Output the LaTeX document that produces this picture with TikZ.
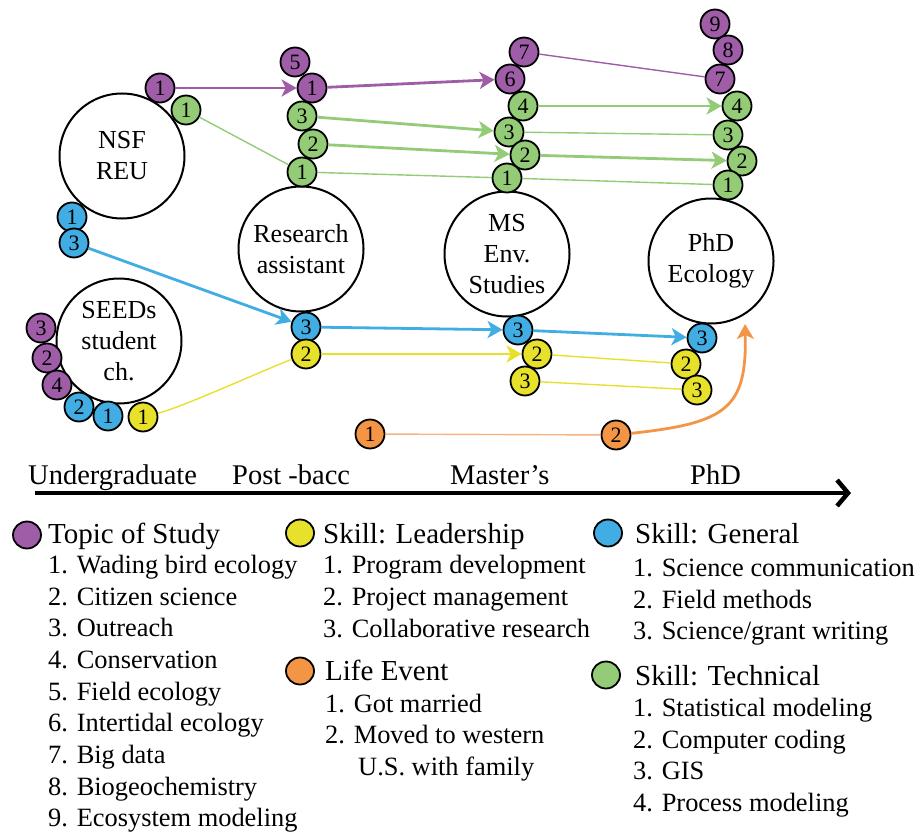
\documentclass[tikz,border=0pt]{standalone}
\usepackage{fontspec}
\setmainfont{Liberation Serif}
\usetikzlibrary{arrows.meta,shapes.geometric}

\definecolor{topic}{HTML}{9F5DA7}
\definecolor{lead}{HTML}{E8E12C}
\definecolor{gen}{HTML}{41ADE2}
\definecolor{tech}{HTML}{93CB77}
\definecolor{life}{HTML}{F49545}
\definecolor{lifelt}{HTML}{F8B282}

\tikzset{
  stage/.style={circle,draw,line width=2pt,minimum size=125pt,inner sep=0pt,align=center,font=\fontsize{26}{31}\selectfont},
  bead/.style={circle,draw,line width=1.8pt,minimum size=29pt,inner sep=0pt,font=\fontsize{22}{22}\selectfont},
  swatch/.style={ellipse,draw,line width=1.8pt,minimum width=28pt,minimum height=27pt,inner sep=0pt},
  head/.style={anchor=base west,inner sep=0pt,font=\fontsize{29}{33}\selectfont},
  item/.style={anchor=base west,inner sep=0pt,font=\fontsize{26.4}{31}\selectfont},
  era/.style={anchor=base west,inner sep=0pt,font=\fontsize{28.5}{32}\selectfont},
  link/.style={line width=1.4pt},
  move/.style={line width=2.8pt,-{Stealth[length=15pt,width=17pt,inset=4pt]}},
}

\begin{document}
\begin{tikzpicture}[x=1pt,y=-1pt]
	\useasboundingbox (0,0) rectangle (917,837);
	% stages
	\node[stage] (nsf) at (122,156) {NSF\\REU};
	\node[stage] (ra) at (301,249) {Research\\assistant};
	\node[stage] (ms) at (507,254) {MS\\Env.\\Studies};
	\node[stage] (phd) at (711,261) {PhD\\Ecology};
	\node[stage] (seeds) at (119,341) {SEEDs\\student\\ch.};
	% NSF REU
	\node[bead,fill=topic] (nsfP1) at (160,88) {1};
	\node[bead,fill=tech] (nsfG1) at (186,110) {1};
	\node[bead,fill=gen] (nsfB1) at (72,217) {1};
	\node[bead,fill=gen] (nsfB3) at (74,243) {3};
	% SEEDs
	\node[bead,fill=topic] (sdP3) at (41,328) {3};
	\node[bead,fill=topic] (sdP2) at (47,358) {2};
	\node[bead,fill=topic] (sdP4) at (57,385) {4};
	\node[bead,fill=gen] (sdB2) at (79,407) {2};
	\node[bead,fill=gen] (sdB1) at (108,416) {1};
	\node[bead,fill=lead] (sdY1) at (143,417) {1};
	% Research assistant
	\node[bead,fill=topic] (raP5) at (295,62) {5};
	\node[bead,fill=topic] (raP1) at (312,88) {1};
	\node[bead,fill=tech] (raG3) at (302,116) {3};
	\node[bead,fill=tech] (raG2) at (313,144) {2};
	\node[bead,fill=tech] (raG1) at (302,172) {1};
	\node[bead,fill=gen] (raB3) at (306,327) {3};
	\node[bead,fill=lead] (raY2) at (306,354) {2};
	% MS
	\node[bead,fill=topic] (msP7) at (524,52) {7};
	\node[bead,fill=topic] (msP6) at (510,79) {6};
	\node[bead,fill=tech] (msG4) at (523,106) {4};
	\node[bead,fill=tech] (msG3) at (509,132) {3};
	\node[bead,fill=tech] (msG2) at (525,155) {2};
	\node[bead,fill=tech] (msG1) at (507,178) {1};
	\node[bead,fill=gen] (msB3) at (518,330) {3};
	\node[bead,fill=lead] (msY2) at (537,354) {2};
	\node[bead,fill=lead] (msY3) at (525,381) {3};
	% PhD
	\node[bead,fill=topic] (phP9) at (715,24) {9};
	\node[bead,fill=topic] (phP8) at (728,50) {8};
	\node[bead,fill=topic] (phP7) at (720,79) {7};
	\node[bead,fill=tech] (phG4) at (737,106) {4};
	\node[bead,fill=tech] (phG3) at (728,135) {3};
	\node[bead,fill=tech] (phG2) at (742,161) {2};
	\node[bead,fill=tech] (phG1) at (728,185) {1};
	\node[bead,fill=gen] (phB3) at (702,338) {3};
	\node[bead,fill=lead] (phY2) at (686,364) {2};
	\node[bead,fill=lead] (phY3) at (697,390) {3};
	% life events
	\node[bead,fill=life] (leO1) at (370,434) {1};
	\node[bead,fill=life] (leO2) at (616,435) {2};
	\coordinate (phdTip) at (745,324);
	% connectors
	\draw[move,topic] (nsfP1) -- (raP1);
	\draw[move,topic] (raP1) -- (msP6);
	\draw[link,topic] (msP7) -- (phP7);
	\draw[link,tech] (nsfG1) -- (raG1);
	\draw[move,tech] (raG3) -- (msG3);
	\draw[move,tech] (raG2) -- (msG2);
	\draw[link,tech] (raG1) -- (msG1);
	\draw[move,tech] (msG4) -- (phG4);
	\draw[link,tech] (msG3) -- (phG3);
	\draw[move,tech] (msG2) -- (phG2);
	\draw[link,tech] (msG1) -- (phG1);
	\draw[move,gen] (nsfB3) -- (raB3);
	\draw[move,gen] (raB3) -- (msB3);
	\draw[move,gen] (msB3) -- (phB3);
	\draw[link,lead] (sdY1) .. controls +(40,-10) and +(-40,15) .. (raY2);
	\draw[move,lead] (raY2) -- (msY2);
	\draw[link,lead] (msY2) -- (phY2);
	\draw[link,lead] (msY3) -- (phY3);
	\draw[link,lifelt] (leO1) -- (leO2);
	\draw[move,life] (leO2) .. controls +(110,-12) and +(2,85) .. (phdTip);
	% timeline
	\coordinate (t0) at (35,493);
	\coordinate (t1) at (851,493);
	\draw[line width=4.5pt,-{Straight Barb[length=11pt,width=26pt]}] (t0) -- (t1);
	\node[era] (ug) at (28,484) {Undergraduate};
	\node[era] (pb) at (232,484) {Post -bacc};
	\node[era] (mst) at (450,484) {Master’s};
	\node[era] (phdl) at (690,484) {PhD};
	% legend
	\node[swatch,fill=topic] (kTopic) at (27,535) {};
	\node[head] (hTopic) at (48,543) {Topic of Study};
	\foreach \t [count=\i] in {Wading bird ecology,Citizen science,Outreach,Conservation,Field ecology,Intertidal ecology,Big data,Biogeochemistry,Ecosystem modeling}
		\node[item] (iTopic\i) at (48,{542+31.65*\i}) {\i. \t};
	\node[swatch,fill=lead] (kLead) at (300,533) {};
	\node[head] (hLead) at (323,543) {Skill: Leadership};
	\foreach \t [count=\i] in {Program development,Project management,Collaborative research}
		\node[item] (iLead\i) at (323,{542+31.8*\i}) {\i. \t};
	\node[swatch,fill=life] (kLife) at (300,671) {};
	\node[head] (hLife) at (325,680) {Life Event};
	\node[item] (iLife1) at (325,712) {1. Got married};
	\node[item] (iLife2) at (325,743) {2. Moved to western};
	\node[item] (iLife3) at (358,775) {U.S. with family};
	\node[swatch,fill=gen] (kGen) at (608,533) {};
	\node[head] (hGen) at (635,543) {Skill: General};
	\foreach \t [count=\i] in {Science communication,Field methods,Science/grant writing}
		\node[item] (iGen\i) at (633,{545+31.6*\i}) {\i. \t};
	\node[swatch,fill=tech] (kTech) at (606,675) {};
	\node[head] (hTech) at (635,685) {Skill: Technical};
	\foreach \t [count=\i] in {Statistical modeling,Computer coding,GIS,Process modeling}
		\node[item] (iTech\i) at (633,{685+31.6*\i}) {\i. \t};
\end{tikzpicture}
\end{document}
